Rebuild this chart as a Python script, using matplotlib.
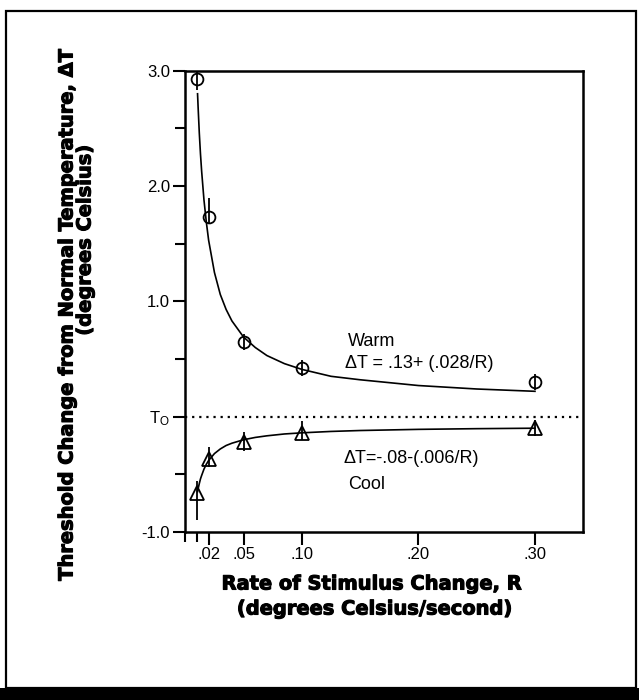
import numpy as np
import matplotlib
matplotlib.use("Agg")
import matplotlib.pyplot as plt
import matplotlib.patheffects as pe
from matplotlib.patches import Rectangle

plt.rcParams['font.family'] = ['Liberation Sans', 'DejaVu Sans']
plt.rcParams['mathtext.fontset'] = 'custom'
plt.rcParams['mathtext.rm'] = 'Liberation Sans'
plt.rcParams['mathtext.it'] = 'Liberation Sans'

# ------------------------------------------------------------
# data
# ------------------------------------------------------------
rate = [0.01, 0.02, 0.05, 0.10, 0.30]

warm_pts = [2.93, 1.73, 0.65, 0.42, 0.30]
warm_err_lo = [0.10, 0.06, 0.07, 0.07, 0.07]
warm_err_hi = [0.06, 0.17, 0.07, 0.07, 0.07]

cool_pts = [-0.66, -0.37, -0.22, -0.14, -0.10]
cool_err_lo = [0.24, 0.07, 0.08, 0.06, 0.07]
cool_err_hi = [0.10, 0.11, 0.09, 0.10, 0.07]

# fitted curves
warm_curve_r = [0.0105, 0.011, 0.012, 0.013, 0.014, 0.016, 0.018, 0.02,
                0.025, 0.03, 0.035, 0.04, 0.05, 0.06, 0.07, 0.085, 0.10,
                0.125, 0.15, 0.20, 0.25, 0.30]
warm_curve_t = [2.80, 2.68, 2.46, 2.28, 2.13, 1.88, 1.69, 1.53,
                1.25, 1.06, 0.93, 0.83, 0.69, 0.60, 0.53, 0.46, 0.41,
                0.35, 0.32, 0.27, 0.24, 0.22]
cool_curve_r = [0.0105, 0.011, 0.012, 0.013, 0.014, 0.016, 0.018, 0.02,
                0.025, 0.03, 0.035, 0.04, 0.05, 0.06, 0.07, 0.085, 0.10,
                0.125, 0.15, 0.20, 0.25, 0.30]
cool_curve_t = [-0.65, -0.625, -0.58, -0.54, -0.51, -0.455, -0.413, -0.38,
                -0.32, -0.28, -0.25, -0.23, -0.20, -0.18, -0.166, -0.15,
                -0.14, -0.128, -0.12, -0.11, -0.104, -0.10]

x_ticks = [0.02, 0.05, 0.10, 0.20, 0.30]
x_ticklabels = ['.02', '.05', '.10', '.20', '.30']
x_minor = [0.0, 0.01]
y_ticks = [-1.0, 0.0, 1.0, 2.0, 3.0]
y_ticklabels = ['-1.0', r'$\mathrm{T_O}$', '1.0', '2.0', '3.0']
y_minor = [-0.5, 0.5, 1.5, 2.5]

# ------------------------------------------------------------
# figure
# ------------------------------------------------------------
fig = plt.figure(figsize=(6.39, 7.0), dpi=100)
ax = fig.add_axes([0.290, 0.240, 0.622, 0.659])

ax.plot(warm_curve_r, warm_curve_t, color='black', lw=1.2)
ax.plot(cool_curve_r, cool_curve_t, color='black', lw=1.2)

ax.errorbar(rate, warm_pts, yerr=[warm_err_lo, warm_err_hi], fmt='o',
            mfc='none', mec='black', mew=1.3, ms=8.5, ecolor='black',
            elinewidth=1.3, capsize=0, zorder=3)
ax.errorbar(rate, cool_pts, yerr=[cool_err_lo, cool_err_hi], fmt='^',
            mfc='none', mec='black', mew=1.3, ms=9.5, ecolor='black',
            elinewidth=1.3, capsize=0, zorder=3)

ax.axhline(0, color='black', lw=1.6, ls=(0, (1, 2.2)))

ax.set_xlim(0, 0.341)
ax.set_ylim(-1.0, 3.0)

ax.set_xticks(x_ticks)
ax.set_xticklabels(x_ticklabels)
ax.set_xticks(x_minor, minor=True)
ax.set_yticks(y_ticks)
ax.set_yticklabels(y_ticklabels)
ax.set_yticks(y_minor, minor=True)

ax.tick_params(axis='both', which='major', direction='out', length=9,
               width=1.5, labelsize=12, pad=2, colors='black')
ax.tick_params(axis='both', which='minor', direction='out', length=7,
               width=1.5)
for s in ax.spines.values():
    s.set_linewidth(1.8)

# equation labels
ax.text(0.1395, 0.655, 'Warm', fontsize=13, va='center', ha='left')
ax.text(0.137, 0.465, '\u0394T = .13+ (.028/R)', fontsize=13,
        va='center', ha='left')
ax.text(0.136, -0.36, '\u0394T=-.08-(.006/R)', fontsize=13,
        va='center', ha='left')
ax.text(0.1395, -0.59, 'Cool', fontsize=13, va='center', ha='left')

# axis titles (heavy type)
heavy = [pe.withStroke(linewidth=0.8, foreground='black')]
title_kw = dict(fontsize=14, fontweight='bold', family='DejaVu Sans',
                ha='center', va='center', path_effects=heavy)
fig.text(67 / 639, 1 - 314 / 700,
         'Threshold Change from Normal Temperature, \u0394T',
         rotation=90, **title_kw)
fig.text(85 / 639, 1 - 240 / 700, '(degrees Celsius)', rotation=90,
         **title_kw)
fig.text(372 / 639, 1 - 584 / 700, 'Rate of Stimulus Change, R',
         **title_kw)
fig.text(375 / 639, 1 - 609 / 700, '(degrees Celsius/second)',
         **title_kw)

# page frame
fig.patches.append(Rectangle((6 / 639, 1 - 688 / 700), 630 / 639,
                             677 / 700, transform=fig.transFigure,
                             fill=False, lw=1.6, ec='black'))
fig.patches.append(Rectangle((0, 0), 1, 12 / 700, transform=fig.transFigure,
                             color='black', lw=0))

fig.savefig('out.png', dpi=100)
